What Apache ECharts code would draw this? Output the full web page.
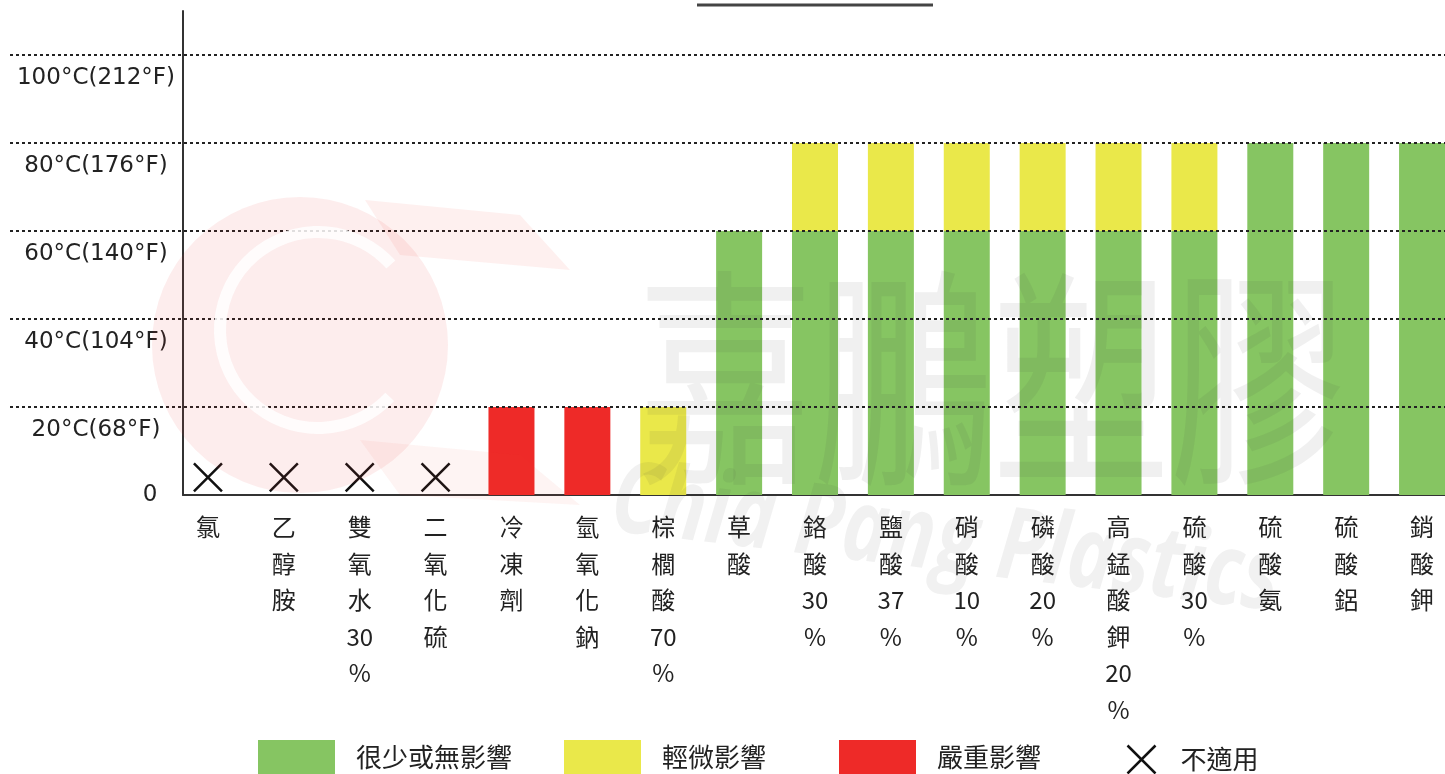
<!DOCTYPE html>
<html>
<head>
<meta charset="utf-8">
<script src="https://cdn.jsdelivr.net/npm/echarts@6/dist/echarts.min.js"></script>
<style>
  html, body { margin: 0; padding: 0; background: #fff; }
  #chart { width: 1445px; height: 774px; }
</style>
</head>
<body>
<div id="chart"></div>
<script>
  // 化學品名稱
  const categories = ['氯', '乙醇胺', '雙氧水30%', '二氧化硫', '冷凍劑', '氫氧化鈉', '棕櫚酸70%', '草酸',
    '鉻酸30%', '鹽酸37%', '硝酸10%', '磷酸20%', '高錳酸鉀20%', '硫酸30%', '硫酸氨', '硫酸鋁', '銷酸鉀'];
  // 各區段溫度 (°C)，堆疊
  const littleEffect = [null, null, null, null, null, null, null, 60, 60, 60, 60, 60, 60, 60, 80, 80, 80];
  const slightEffect = [null, null, null, null, null, null, 20, null, 20, 20, 20, 20, 20, 20, null, null, null];
  const severeEffect = [null, null, null, null, 20, 20, null, null, null, null, null, null, null, null, null, null, null];
  const notApplicable = [4, 4, 4, 4, null, null, null, null, null, null, null, null, null, null, null, null, null];
  const tempTicks = { 0: '0', 20: '20°C(68°F)', 40: '40°C(104°F)', 60: '60°C(140°F)', 80: '80°C(176°F)', 100: '100°C(212°F)' };

  const COLORS = { green: '#86c562', yellow: '#eae84a', red: '#ee2a28' };
  const crossPath = 'path://M0,0L28,28M28,0L0,28';
  const cjk = '"Noto Sans CJK TC", "Noto Sans", sans-serif';

  const chart = echarts.init(document.getElementById('chart'));

  function legendBox(name, left, extra) {
    return Object.assign({
      left: left,
      top: 735,
      data: [name],
      icon: 'rect',
      itemWidth: 77,
      itemHeight: 34,
      selectedMode: false,
      textStyle: { fontSize: 26, fontFamily: cjk, color: '#222', padding: [0, 0, 0, 16] }
    }, extra || {});
  }

  const option = {
    animation: false,
    grid: [
      { left: 170, top: 11, width: 1290, bottom: 279, outerBoundsMode: 'none' },
      { left: 183, top: 11, right: 0, bottom: 279, outerBoundsMode: 'none' },
      { left: 10, top: 11, right: 0, bottom: 279, outerBoundsMode: 'none' }
    ],
    legend: [
      legendBox('很少或無影響', 253),
      legendBox('輕微影響', 559),
      legendBox('嚴重影響', 834),
      legendBox('不適用', 1120, {
        top: 738,
        icon: crossPath,
        itemWidth: 28,
        itemHeight: 28,
        itemStyle: { color: 'none', borderColor: '#111', borderWidth: 2.5 },
        textStyle: { fontSize: 26, fontFamily: cjk, color: '#222', padding: [0, 0, 0, 20] }
      })
    ],
    xAxis: [
      {
        type: 'category',
        gridIndex: 0,
        data: categories,
        axisLine: { show: false },
        axisTick: { show: false },
        axisLabel: {
          interval: 0,
          margin: 14,
          verticalAlign: 'top',
          fontSize: 24,
          lineHeight: 36.5,
          fontFamily: cjk,
          color: '#222',
          formatter: v => v.match(/[0-9]+|./g).join('\n')
        }
      },
      {
        type: 'value',
        gridIndex: 1,
        min: 0,
        max: 1,
        axisLine: { show: true, lineStyle: { color: '#333', width: 2 } },
        axisTick: { show: false },
        axisLabel: { show: false },
        splitLine: { show: false }
      },
      { type: 'value', gridIndex: 2, show: false, min: 0, max: 1 }
    ],
    yAxis: [
      { type: 'value', gridIndex: 0, min: 0, max: 110, show: false },
      {
        type: 'value',
        gridIndex: 1,
        min: 0,
        max: 110,
        interval: 20,
        axisLine: { show: true, lineStyle: { color: '#333', width: 2 } },
        axisTick: { show: false },
        splitLine: { show: false },
        axisLabel: {
          showMaxLabel: false,
          align: 'center',
          margin: 87,
          formatter: v => (v === 0 ? '{z|0}' : '{a|' + (tempTicks[v] || '') + '}'),
          rich: {
            a: { fontSize: 23, fontFamily: 'DejaVu Sans', color: '#222', padding: [46, 0, 0, 0] },
            z: { fontSize: 23, fontFamily: 'DejaVu Sans', color: '#222', padding: [0, 0, 0, 108] }
          }
        }
      },
      {
        type: 'value',
        gridIndex: 2,
        min: 0,
        max: 110,
        interval: 20,
        z: 10,
        axisLine: { show: false },
        axisTick: { show: false },
        axisLabel: { show: false },
        splitLine: {
          show: true,
          showMinLine: false,
          showMaxLine: false,
          lineStyle: { color: '#222', width: 2, type: [3, 3] }
        }
      }
    ],
    series: [
      {
        name: '很少或無影響', type: 'bar', stack: 'temp', barWidth: 46,
        xAxisIndex: 0, yAxisIndex: 0,
        itemStyle: { color: COLORS.green }, data: littleEffect
      },
      {
        name: '輕微影響', type: 'bar', stack: 'temp', barWidth: 46,
        xAxisIndex: 0, yAxisIndex: 0,
        itemStyle: { color: COLORS.yellow }, data: slightEffect
      },
      {
        name: '嚴重影響', type: 'bar', stack: 'temp', barWidth: 46,
        xAxisIndex: 0, yAxisIndex: 0,
        itemStyle: { color: COLORS.red }, data: severeEffect
      },
      {
        name: '不適用', type: 'scatter',
        xAxisIndex: 0, yAxisIndex: 0,
        symbol: crossPath, symbolSize: 28,
        itemStyle: { color: 'none', borderColor: '#111', borderWidth: 2.5, opacity: 1 },
        data: notApplicable
      }
    ],
    graphic: [
      // 標題底線（標題本身在畫面外）
      { type: 'line', silent: true, z: 5, shape: { x1: 697, y1: 5, x2: 933, y2: 5 }, style: { stroke: '#444', lineWidth: 3 } },
      // 浮水印 logo
      { type: 'circle', silent: true, z: 50, shape: { cx: 300, cy: 345, r: 148 }, style: { fill: 'rgba(238,60,50,0.09)' } },
      { type: 'polygon', silent: true, z: 50, shape: { points: [[365, 200], [520, 215], [570, 270], [400, 255]] }, style: { fill: 'rgba(238,60,50,0.08)' } },
      { type: 'polygon', silent: true, z: 50, shape: { points: [[360, 440], [520, 455], [580, 505], [400, 495]] }, style: { fill: 'rgba(238,60,50,0.06)' } },
      { type: 'arc', silent: true, z: 51, shape: { cx: 318, cy: 330, r: 98, startAngle: 0.75, endAngle: 5.55 }, style: { fill: 'none', stroke: '#fff', lineWidth: 12, opacity: 0.85 } },
      {
        type: 'text', silent: true, z: 60, x: 636, y: 262, scaleY: 1.3,
        style: { text: '嘉鵬塑膠', fontSize: 178, fontFamily: cjk, fill: 'rgba(60,60,60,0.08)' }
      },
      {
        type: 'text', silent: true, z: 60, x: 618, y: 452, rotation: -0.12, scaleX: 0.78,
        style: { text: 'Chia Pang Plastics', fontSize: 100, fontWeight: 'bold', fontStyle: 'italic', fontFamily: 'Open Sans', fill: 'rgba(60,60,60,0.07)' }
      }
    ]
  };

  chart.setOption(option);
  window.addEventListener('resize', function () {
    chart.resize();
  });
</script>
</body>
</html>
